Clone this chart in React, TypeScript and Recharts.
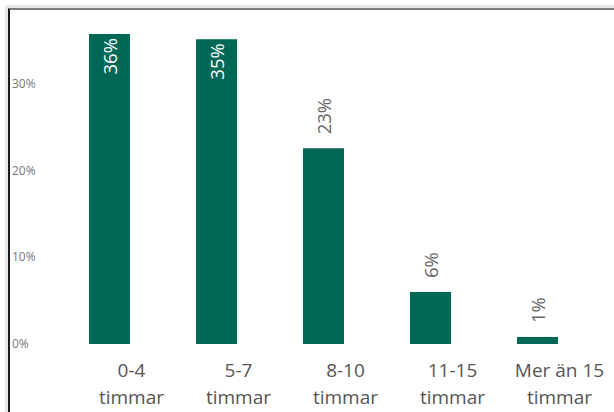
import { BarChart, Bar, XAxis, YAxis, LabelList } from "recharts"

const categories = ["0-4 timmar", "5-7 timmar", "8-10 timmar", "11-15 timmar", "Mer än 15 timmar"]
const shares = [0.358, 0.352, 0.226, 0.06, 0.008]
const yTicks = [0, 0.1, 0.2, 0.3]

const data = categories.map((name, i) => ({ name, value: shares[i] }))

const FONT = "'Open Sans', 'Noto Sans', sans-serif"
const GREEN = "#016856"

const pct = (v: number) => `${Math.round(v * 100)}%`

function YTick(props: any) {
  const { y, payload } = props
  return (
    <text x={12} y={y} dy={4} textAnchor="start" fontSize={12} fill="#777" fontFamily={FONT}>
      {pct(payload.value)}
    </text>
  )
}

function XTick(props: any) {
  const { x, y, payload } = props
  const s = String(payload.value)
  const cut = s.lastIndexOf(" ")
  const lines = [s.slice(0, cut), s.slice(cut + 1)]
  return (
    <text x={x + 22} y={y} textAnchor="middle" fontSize={19} fill="#555" fontFamily={FONT}>
      {lines.map((l, i) => (
        <tspan key={i} x={x + 22} dy={i === 0 ? 25 : 27}>
          {l}
        </tspan>
      ))}
    </text>
  )
}

function ValueLabel(props: any) {
  const { x, y, width, value } = props
  const cx = x + width / 2
  const inside = value > 0.3
  const ty = inside ? y + 4 : y - 14
  return (
    <text
      x={cx}
      y={ty}
      transform={`rotate(-90 ${cx} ${ty})`}
      textAnchor={inside ? "end" : "start"}
      dominantBaseline="central"
      fontSize={18.5}
      fill={inside ? "#fff" : "#666"}
      fontFamily={FONT}
    >
      {pct(value)}
    </text>
  )
}

export default function App() {
  return (
    <div style={{ position: "absolute", left: 0, top: 0, width: 614, height: 412, background: "#fff", overflow: "hidden" }}>
      <div style={{ position: "absolute", left: 5, top: 5, width: 609, height: 407, background: "#e8e8e8" }} />
      <div
        style={{
          position: "absolute",
          left: 8,
          top: 8,
          width: 606,
          height: 404,
          background: "#fff",
          borderTop: "2px solid #7a7a7a",
          borderLeft: "2px solid #1a1a1a",
          boxSizing: "border-box",
        }}
      />
      <div style={{ position: "absolute", left: 0, top: 0 }}>
        <BarChart width={614} height={412} data={data} margin={{ top: 15, right: 23, bottom: 0, left: 0 }}>
          <YAxis
            width={56}
            domain={[0, 0.38]}
            ticks={yTicks}
            axisLine={false}
            tickLine={false}
            tick={<YTick />}
            interval={0}
          />
          <XAxis dataKey="name" height={68} axisLine={false} tickLine={false} tick={<XTick />} interval={0} />
          <Bar dataKey="value" fill={GREEN} barSize={41} isAnimationActive={false}>
            <LabelList dataKey="value" content={<ValueLabel />} />
          </Bar>
        </BarChart>
      </div>
    </div>
  )
}
